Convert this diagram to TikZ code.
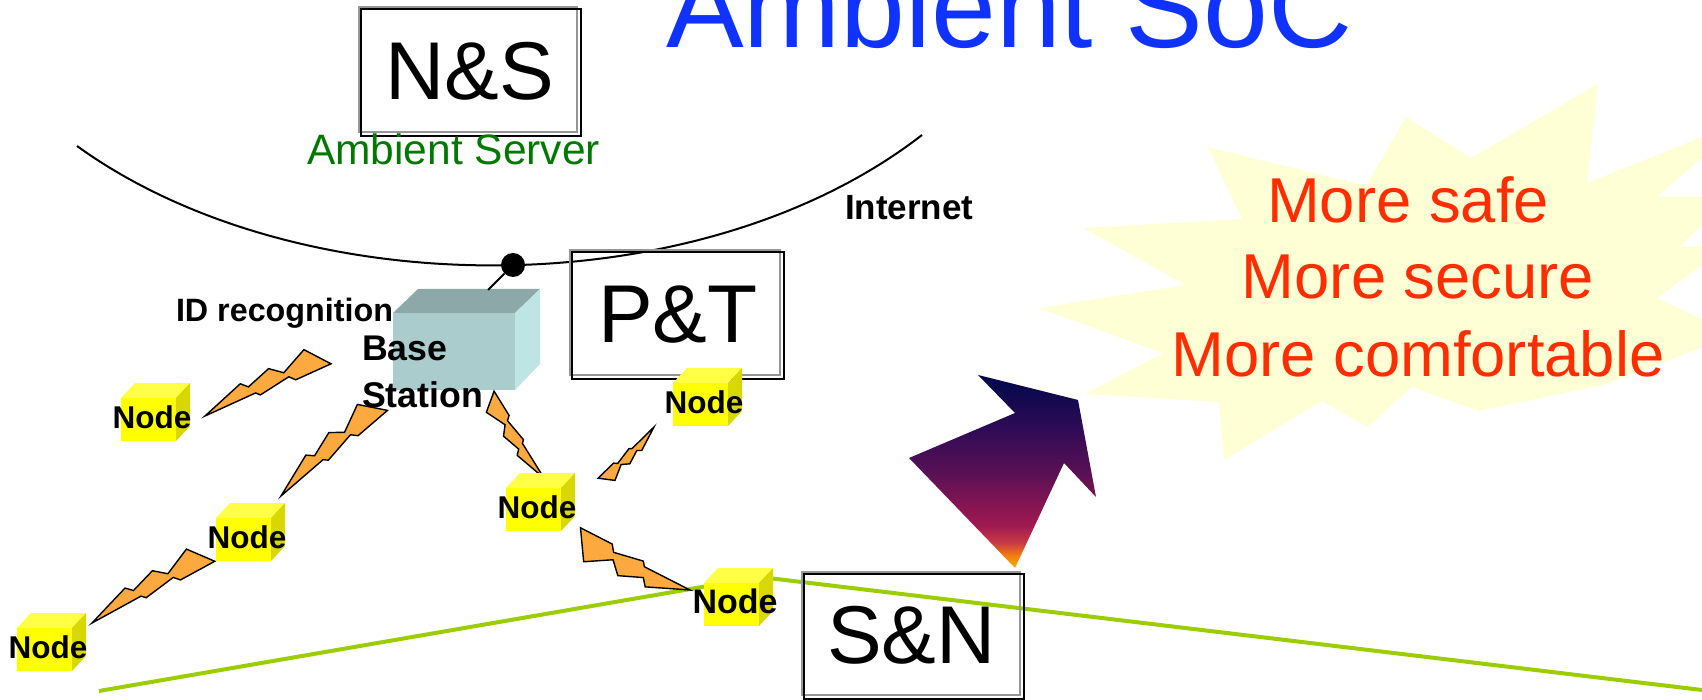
\documentclass[tikz,border=0pt]{standalone}
\usepackage{fontspec}
\setmainfont{Liberation Sans}
\usetikzlibrary{calc}

\definecolor{titleblue}{RGB}{15,50,255}
\definecolor{servergreen}{RGB}{0,120,0}
\definecolor{starfill}{RGB}{255,255,214}
\definecolor{starred}{RGB}{255,45,0}
\definecolor{boltorange}{RGB}{252,170,64}
\definecolor{cubefront}{RGB}{255,255,0}
\definecolor{cubetop}{RGB}{255,255,70}
\definecolor{cubeside}{RGB}{216,216,0}
\definecolor{bsfront}{RGB}{170,204,204}
\definecolor{bstop}{RGB}{140,168,168}
\definecolor{bsside}{RGB}{190,228,228}
\definecolor{netgreen}{RGB}{155,205,0}
\definecolor{framegray}{RGB}{150,150,150}
% colours of the upward arrow, bottom to top
\definecolor{ashY}{RGB}{255,175,0}
\definecolor{ashO}{RGB}{245,130,10}
\definecolor{ashR}{RGB}{200,60,70}
\definecolor{ashC}{RGB}{160,25,80}
\definecolor{ashP}{RGB}{88,16,85}
\definecolor{ashV}{RGB}{40,10,85}
\definecolor{ashN}{RGB}{0,8,75}

\pgfdeclareverticalshading{arrowshade}{100bp}{%
  color(0bp)=(ashY); color(25bp)=(ashY); color(28bp)=(ashO);
  color(31.5bp)=(ashR); color(36bp)=(ashC); color(50bp)=(ashP);
  color(63bp)=(ashV); color(75bp)=(ashN); color(100bp)=(ashN)}

% lightning bolt: tip x, tip y, angle, length, width factor
\newcommand\radiobolt[5]{%
  \filldraw[boltshape, shift={(#1,#2)}, rotate=#3, xscale=#4, yscale=#4*#5]
    (0,0) -- (0.367,-0.095) -- (0.413,-0.043) -- (0.622,-0.096)
    -- (0.713,-0.011) -- (0.94,-0.098) -- (1.078,0.102) -- (0.771,0.083)
    -- (0.733,0.036) -- (0.467,0.058) -- (0.44,0.026) -- cycle;}

% yellow sensor cube: name, x and y of the front face's top left corner, label size
\newcommand\sensorcube[4]{%
  \fill[cubetop] (#2,#3) -- ++(14,-15) -- ++(55,0) -- ++(-14,15) -- cycle;
  \fill[cubeside] (#2+55,#3) -- ++(14,-15) -- ++(0,43) -- ++(-14,15) -- cycle;
  \node[fill=cubefront, minimum width=55pt, minimum height=43pt, inner sep=0pt]
    (#1) at (#2+27.5,#3+21.5) {};
  \node[lbl, anchor=base, font=\bfseries\fontsize{#4}{#4}\selectfont]
    (#1-l) at (#2+31,#3+30) {Node};}

\begin{document}
\begin{tikzpicture}[x=1pt,y=-1pt,
  lbl/.style={inner sep=0pt, outer sep=0pt},
  boxframe/.style={draw=framegray, line width=2.2pt, inner sep=0pt},
  boxlabel/.style={lbl, font=\fontsize{82}{98}\selectfont},
  boltshape/.style={fill=boltorange, draw=black, line width=1.4pt, line join=miter},
  netline/.style={draw=netgreen, line width=4pt},
  arcline/.style={draw=black, line width=2pt}]
\useasboundingbox (0,0) rectangle (1702,700);
\clip (0,0) rectangle (1702,700);

% burst behind the slogan
\fill[starfill] (1038,308) -- (1186,285) -- (1083,228) -- (1242,219) -- (1208,147)
  -- (1366,186) -- (1406,117) -- (1471,158) -- (1598,84) -- (1587,183)
  -- (1745,120) -- (1657,197) -- (1730,197) -- (1680,247) -- (1730,245)
  -- (1657,298) -- (1735,335) -- (1603,385) -- (1478,411) -- (1412,387)
  -- (1367,427) -- (1322,401) -- (1224,460) -- (1219,402) -- (1085,394)
  -- (1163,353) -- cycle;

% arrow pointing to the burst
\shade[shading=arrowshade] (909,458) -- (1015,413) -- (978,375) -- (1078,400)
  -- (1096,497) -- (1064,463) -- (1015,568) -- cycle;

% sensor network line
\coordinate (netL) at (99,691);
\coordinate (netM) at (760,577);
\coordinate (netR) at (1702,690);
\draw[netline] (netL) -- (netM) -- (netR);

% internet arc
\coordinate (arcL) at (77,146);
\coordinate (arcR) at (922,135);
\draw[arcline] (arcL) .. controls (300,307) and (700,307) .. (arcR);

% title
\node[lbl, anchor=base west, text=titleblue, font=\fontsize{116.5}{140}\selectfont]
  (title) at (666,48) {Ambient SoC};

% framed labels
\node[boxframe, minimum width=218pt, minimum height=125pt] (ns) at (468,69.5) {};
\draw[line width=2.2pt] ([shift={(3,3)}]ns.north west) rectangle ([shift={(3,3)}]ns.south east);
\node[boxlabel, anchor=base] (ns-l) at (470,100) {N\&S};

\node[boxframe, minimum width=210pt, minimum height=125pt] (pt) at (675,312.5) {};
\draw[line width=2.2pt] ([shift={(3,3)}]pt.north west) rectangle ([shift={(3,3)}]pt.south east);
\node[boxlabel, anchor=base] (pt-l) at (678,343) {P\&T};

\node[boxframe, minimum width=218pt, minimum height=123pt] (sn) at (911,633.5) {};
\draw[line width=2.2pt] ([shift={(3,3)}]sn.north west) rectangle ([shift={(3,3)}]sn.south east);
\node[boxlabel, anchor=base] (sn-l) at (911.5,663) {S\&N};

\node[lbl, anchor=base, text=servergreen, font=\fontsize{42.5}{50}\selectfont]
  (server) at (453.5,165) {Ambient Server};
\node[lbl, anchor=base west, font=\bfseries\fontsize{35}{40}\selectfont]
  (inet) at (845,220) {Internet};

% base station cube
\fill[bstop] (393,313) -- (418,289) -- (540,289) -- (515,313) -- cycle;
\fill[bsside] (515,313) -- (540,289) -- (540,364) -- (515,390) -- cycle;
\node[fill=bsfront, minimum width=122pt, minimum height=77pt, inner sep=0pt]
  (bs) at (454,351.5) {};
\coordinate (bsTop) at (488,290);
\node[circle, fill=black, inner sep=0pt, minimum size=24pt] (hub) at (513,265) {};
\draw[line width=2pt] (hub) -- (bsTop);

% radio links
\radiobolt{205}{416}{27.9}{126}{1}
\radiobolt{281}{496}{44.2}{126.2}{1}
\radiobolt{92}{623}{32.1}{126.9}{1}
\radiobolt{544}{478}{125.3}{92.5}{1}
\radiobolt{654}{427}{-132.1}{70}{1}
\radiobolt{690}{590}{157.4}{116}{1.3}

% sensor nodes
\sensorcube{n1}{121}{398}{31.5}
\sensorcube{n2}{216}{518}{31.5}
\sensorcube{n3}{17}{628}{31.5}
\sensorcube{n4}{506}{488}{31.5}
\sensorcube{n5}{673}{383}{31.5}
\sensorcube{n6}{704}{583}{34}

% base station texts
\node[lbl, anchor=base west, font=\bfseries\fontsize{32.3}{38}\selectfont]
  (idrec) at (176,322) {ID recognition};
\node[lbl, anchor=base west, font=\bfseries\fontsize{35.7}{47}\selectfont]
  (bs-l1) at (362,360) {Base};
\node[lbl, anchor=base west, font=\bfseries\fontsize{35.7}{47}\selectfont]
  (bs-l2) at (362,407) {Station};

% slogan
\node[lbl, anchor=base, text=starred, font=\fontsize{63.4}{76}\selectfont]
  (safe) at (1408,223) {More safe};
\node[lbl, anchor=base, text=starred, font=\fontsize{63.4}{76}\selectfont]
  (secure) at (1418,299) {More secure};
\node[lbl, anchor=base, text=starred, font=\fontsize{63.4}{76}\selectfont]
  (comfort) at (1418,376) {More comfortable};
\end{tikzpicture}
\end{document}
